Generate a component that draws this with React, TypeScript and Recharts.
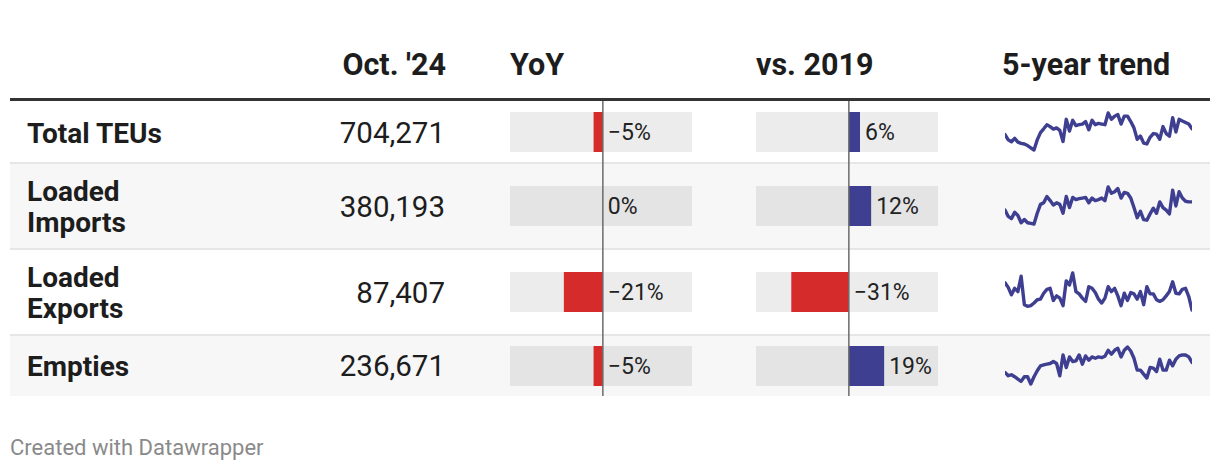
import React from 'react';
import { BarChart, Bar, XAxis, YAxis, ReferenceLine, Cell, LineChart, Line } from 'recharts';

// ---------- data ----------
const headers = ["Oct. '24", 'YoY', 'vs. 2019', '5-year trend'];
const categories = [['Total TEUs'], ['Loaded', 'Imports'], ['Loaded', 'Exports'], ['Empties']];
const octTEUs = [704271, 380193, 87407, 236671];
const yoyChange = [-5, 0, -21, -5];
const vs2019Change = [6, 12, -31, 19];
const barDomain = [-50, 48];

// monthly TEUs (thousands), Nov 2019 – Oct 2024, read from the sparklines
const trendTotal = [632, 564, 540, 584, 536, 520, 512, 492, 464, 436, 564, 656, 704, 756, 732, 700, 716, 684, 544, 824, 676, 812, 744, 756, 764, 796, 692, 812, 756, 772, 764, 756, 904, 824, 864, 884, 764, 864, 864, 796, 716, 572, 612, 524, 512, 596, 644, 636, 572, 732, 644, 612, 844, 664, 824, 804, 784, 764, 704];
const trendImports = [328, 288, 274, 314, 294, 248, 268, 248, 244, 240, 308, 364, 374, 414, 388, 360, 374, 364, 308, 414, 344, 408, 394, 400, 404, 408, 374, 404, 388, 394, 404, 388, 474, 434, 444, 464, 404, 440, 434, 404, 344, 280, 320, 268, 264, 304, 340, 308, 380, 344, 328, 304, 454, 354, 444, 404, 384, 380, 380];
const trendExports = [133.2, 125.5, 112.9, 123.9, 118.4, 144.2, 96.4, 93.6, 94.7, 99.1, 104.6, 105.7, 115.6, 122.2, 123.9, 103.5, 111.2, 107.4, 94.7, 136.5, 129.4, 149.7, 118.4, 114.5, 107.4, 101.9, 126.6, 123.9, 116.7, 105.7, 99.1, 107.4, 126.6, 118.4, 123.9, 111.2, 94.7, 115.6, 103.5, 116.7, 114.5, 105.7, 118.4, 96.4, 126.6, 114.5, 114.5, 104.6, 101.9, 104.6, 111.2, 118.4, 134.9, 115.6, 114.5, 122.2, 123.9, 110.1, 87.4];
const trendEmpties = [177, 157, 163, 151, 137, 123, 151, 151, 107, 151, 187, 217, 223, 227, 231, 243, 231, 157, 283, 207, 271, 243, 247, 283, 227, 277, 251, 271, 263, 271, 267, 275, 311, 287, 311, 323, 271, 311, 331, 307, 263, 191, 191, 167, 143, 207, 203, 183, 257, 191, 191, 251, 217, 257, 277, 283, 283, 271, 237];
const trends = [trendTotal, trendImports, trendExports, trendEmpties];
const footerText = 'Created with Datawrapper';

// ---------- style / layout ----------
const FONT = 'Roboto, "Noto Sans", sans-serif';
const RED = '#d52b2b';
const BLUE = '#3f3f91';
const TEXT = '#1d1d1d';
const ROWS = [
  { top: 101, h: 62 },
  { top: 163, h: 86 },
  { top: 249, h: 86 },
  { top: 335, h: 61 },
];

const fmtPct = (v: number) => (v < 0 ? `\u2212${Math.abs(v)}%` : `${v}%`);

function DeltaBar({ value, left, top, height }: { value: number; left: number; top: number; height: number }) {
  const data = [{ name: 'row', v: value, track: barDomain }];
  return (
    <div style={{ position: 'absolute', left, top }}>
      <BarChart
        width={182}
        height={height}
        data={data}
        layout="vertical"
        barGap={-40}
        margin={{ top: 0, right: 0, bottom: 0, left: 0 }}
      >
        <XAxis type="number" domain={barDomain} allowDataOverflow hide />
        <YAxis type="category" dataKey="name" hide />
        <Bar dataKey="track" barSize={40} fill="#000" fillOpacity={0.075} isAnimationActive={false} />
        <Bar dataKey="v" barSize={40} isAnimationActive={false}>
          {data.map((d, i) => (
            <Cell key={i} fill={d.v < 0 ? RED : BLUE} />
          ))}
        </Bar>
        <ReferenceLine x={0} stroke="#6b6b6b" strokeWidth={1.5} />
        <ReferenceLine
          x={Math.max(value, 0)}
          stroke="none"
          label={(p: any) => {
            const vb = p.viewBox || {};
            return (
              <text x={Number(vb.x) + 5} y={Number(vb.y) + Number(vb.height) / 2 + 8} fontSize={23} fill="#222" fontFamily={FONT}>
                {fmtPct(value)}
              </text>
            );
          }}
        />
      </BarChart>
    </div>
  );
}

function Sparkline({ values, left, top }: { values: number[]; left: number; top: number }) {
  const data = values.map((v, i) => ({ i, v }));
  return (
    <div style={{ position: 'absolute', left, top }}>
      <LineChart width={187} height={41} data={data} margin={{ top: 2, right: 0, bottom: 2, left: 0 }}>
        <XAxis type="number" dataKey="i" domain={['dataMin', 'dataMax']} hide />
        <YAxis type="number" domain={['dataMin', 'dataMax']} hide />
        <Line dataKey="v" stroke={BLUE} strokeWidth={3.4} dot={false} isAnimationActive={false} strokeLinejoin="round" strokeLinecap="round" />
      </LineChart>
    </div>
  );
}

export default function App() {
  return (
    <div style={{ position: 'absolute', left: 0, top: 0, width: 1220, height: 472, background: '#fff', fontFamily: FONT, overflow: 'hidden' }}>
      {/* row backgrounds */}
      {ROWS.map((r, i) =>
        i % 2 === 1 ? (
          <div key={'bg' + i} style={{ position: 'absolute', left: 10, top: r.top, width: 1200, height: r.h, background: '#f7f7f7' }} />
        ) : null
      )}
      {/* separators */}
      {ROWS.slice(1).map((r, i) => (
        <div key={'sep' + i} style={{ position: 'absolute', left: 10, top: r.top - 1, width: 1200, height: 2, background: '#e6e6e6' }} />
      ))}
      {/* header rule */}
      <div style={{ position: 'absolute', left: 10, top: 98, width: 1200, height: 3, background: '#333' }} />

      {/* bar columns */}
      {ROWS.map((r, i) => (
        <DeltaBar key={'y' + i} value={yoyChange[i]} left={510} top={r.top} height={r.h} />
      ))}
      {ROWS.map((r, i) => (
        <DeltaBar key={'v' + i} value={vs2019Change[i]} left={756} top={r.top} height={r.h} />
      ))}
      {/* sparklines */}
      {ROWS.map((r, i) => (
        <Sparkline key={'s' + i} values={trends[i]} left={1005} top={r.top + r.h / 2 - 21} />
      ))}

      {/* text */}
      <svg width={1220} height={472} style={{ position: 'absolute', left: 0, top: 0, pointerEvents: 'none' }} fontFamily={FONT}>
        <g fontSize={30.5} fontWeight={700} fill={TEXT}>
          <text x={446} y={75} textAnchor="end">{headers[0]}</text>
          <text x={510} y={75}>{headers[1]}</text>
          <text x={756} y={75}>{headers[2]}</text>
          <text x={1002} y={75}>{headers[3]}</text>
        </g>
        {ROWS.map((r, i) => {
          const c = r.top + r.h / 2;
          const lines = categories[i];
          return (
            <g key={'t' + i} fill={TEXT}>
              {lines.map((ln, j) => (
                <text key={j} x={27} y={c + 10.5 + (j - (lines.length - 1) / 2) * 31.7} fontSize={28} fontWeight={700}>
                  {ln}
                </text>
              ))}
              <text x={445} y={c + 10.5} fontSize={29.5} textAnchor="end">
                {octTEUs[i].toLocaleString('en-US')}
              </text>
            </g>
          );
        })}
        <text x={10} y={455} fontSize={22} fill="#8a8a8a">{footerText}</text>
      </svg>
    </div>
  );
}
